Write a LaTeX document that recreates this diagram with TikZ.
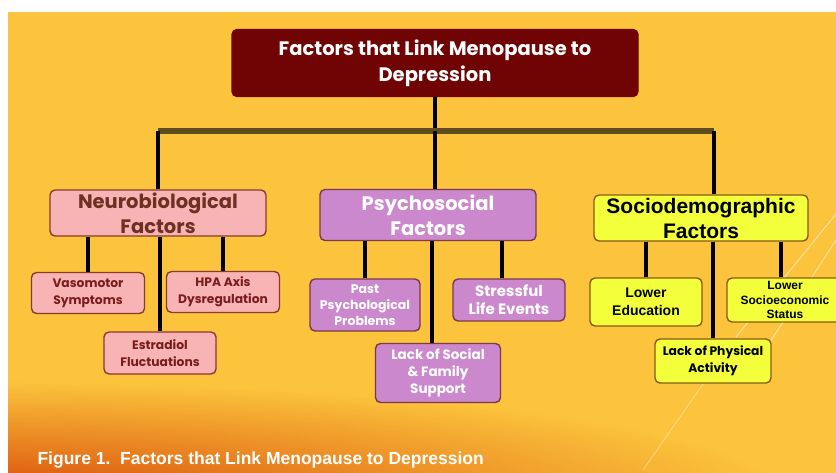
\documentclass[tikz,border=0pt]{standalone}
\usepackage{fontspec}
\setmainfont{Liberation Sans}
\newfontfamily\gothic{Poppins}
\usetikzlibrary{positioning, calc, fadings}

\definecolor{bgyellow}{RGB}{252,196,60}
\definecolor{glow}{RGB}{218,80,12}
\definecolor{titlered}{RGB}{112,4,4}
\definecolor{barbrown}{RGB}{94,76,30}
\definecolor{neurofill}{RGB}{248,180,180}
\definecolor{neurodraw}{RGB}{138,60,44}
\definecolor{neurotext}{RGB}{122,28,28}
\definecolor{psyfill}{RGB}{204,136,204}
\definecolor{psydraw}{RGB}{122,58,74}
\definecolor{sociofill}{RGB}{242,255,58}
\definecolor{sociodraw}{RGB}{138,90,26}

\tikzfading[name=glowfade, inner color=transparent!0, outer color=transparent!100]

\begin{document}
\begin{tikzpicture}[x=1pt, y=-1pt,
    box/.style={draw, rounded corners=5pt, line width=1.4pt, align=center, inner sep=1pt},
    head/.style={box, minimum width=216pt, font=\gothic\bfseries\fontsize{19.5}{25}\selectfont},
    leaf/.style={box, font=\gothic\bfseries\fontsize{12.3}{17}\selectfont},
    neuro/.style={fill=neurofill, draw=neurodraw, text=neurotext},
    psy/.style={fill=psyfill, draw=psydraw, text=white},
    socio/.style={fill=sociofill, draw=sociodraw, text=black},
    link/.style={line width=4.5pt, black}]
    \useasboundingbox (0,0) rectangle (836,473);
    % background
    \fill[bgyellow] (8,12) rectangle (836,473);
    \begin{scope}
        \clip (8,12) rectangle (836,473);
        \fill[glow, path fading=glowfade] (-20,492) ellipse (800pt and 110pt);
    \end{scope}
    \draw[white, opacity=.6, line width=.8pt] (836,214) -- (736,337);
    \draw[white, opacity=.6, line width=.8pt] (836,240) -- (770,342);
    \draw[white, opacity=.5, line width=.6pt] (703,384) -- (643,470);

    % title
    \node[box, draw=titlered, fill=titlered, text=white, minimum width=406pt, minimum height=67pt,
        font=\gothic\bfseries\fontsize{19.5}{26}\selectfont] (title) at (435,63)
        {Factors that Link Menopause to\\Depression};

    % main groups
    \node[head, neuro, minimum height=46pt, text=neurodraw!80!black] (neuro) at (158,213) {Neurobiological\\Factors};
    \node[head, psy, minimum height=51pt] (psy) at (428,215) {Psychosocial\\Factors};
    \node[head, socio, minimum width=214pt, minimum height=46pt,
        font=\bfseries\fontsize{21}{25}\selectfont] (socio) at (701,218) {Sociodemographic\\Factors};

    % neurobiological
    \node[leaf, neuro, minimum width=113pt, minimum height=41pt] (vaso) at (88,293) {Vasomotor\\Symptoms};
    \node[leaf, neuro, minimum width=113pt, minimum height=41pt] (hpa) at (223,292) {HPA Axis\\Dysregulation};
    \node[leaf, neuro, minimum width=112pt, minimum height=42pt] (estr) at (160,353) {Estradiol\\Fluctuations};

    % psychosocial
    \node[leaf, psy, minimum width=110pt, minimum height=52pt,
        font=\gothic\bfseries\fontsize{12.5}{16}\selectfont] (past) at (365,305) {Past\\Psychological\\Problems};
    \node[leaf, psy, minimum width=112pt, minimum height=42pt,
        font=\gothic\bfseries\fontsize{15}{18}\selectfont] (stress) at (509,300) {Stressful\\Life Events};
    \node[leaf, psy, minimum width=125pt, minimum height=59pt,
        font=\gothic\bfseries\fontsize{13.5}{17}\selectfont] (support) at (438,373) {Lack of Social\\\& Family\\Support};

    % sociodemographic
    \node[leaf, socio, minimum width=112pt, minimum height=48pt,
        font=\bfseries\fontsize{14}{18}\selectfont] (edu) at (646,302) {Lower\\Education};
    \node[leaf, socio, minimum width=116pt, minimum height=44pt] (phys) at (713,361) {Lack of Physical\\Activity};
    \node[leaf, socio, minimum width=116pt, minimum height=44pt,
        font=\bfseries\fontsize{12}{14.5}\selectfont] (ses) at (785,300) {Lower\\Socioeconomic\\Status};

    % trunk
    \coordinate (bar) at (0,131);
    \coordinate (sociotop) at ($(socio.north)+(13,0)$);
    \draw[line width=3.5pt] (title.south) -- (title.south |- bar);
    \draw[line width=6pt, barbrown] (neuro.north |- bar) -- (sociotop |- bar);
    \draw[link] (neuro.north |- bar) -- (neuro.north);
    \draw[link] (title.south |- bar) -- (title.south |- psy.north);
    \draw[link] (sociotop |- bar) -- (sociotop);

    % branches
    \draw[link] (vaso.north) -- (vaso.north |- neuro.south);
    \draw[link] (estr.north) -- (estr.north |- neuro.south);
    \draw[link] (hpa.north) -- (hpa.north |- neuro.south);
    \draw[link] (past.north) -- (past.north |- psy.south);
    \draw[link] ([xshift=-6]support.north) -- ([xshift=-6]support.north |- psy.south);
    \draw[link] ([xshift=-7]stress.north) -- ([xshift=-7]stress.north |- psy.south);
    \draw[link] (edu.north) -- (edu.north |- socio.south);
    \draw[link] (phys.north) -- (phys.north |- socio.south);
    \draw[link] ([xshift=-4]ses.north) -- ([xshift=-4]ses.north |- socio.south);

    % caption
    \node[anchor=west, text=white, font=\bfseries\fontsize{17.5}{20}\selectfont] (caption) at (34,460)
        {Figure 1.\ \ Factors that Link Menopause to Depression};
\end{tikzpicture}
\end{document}
